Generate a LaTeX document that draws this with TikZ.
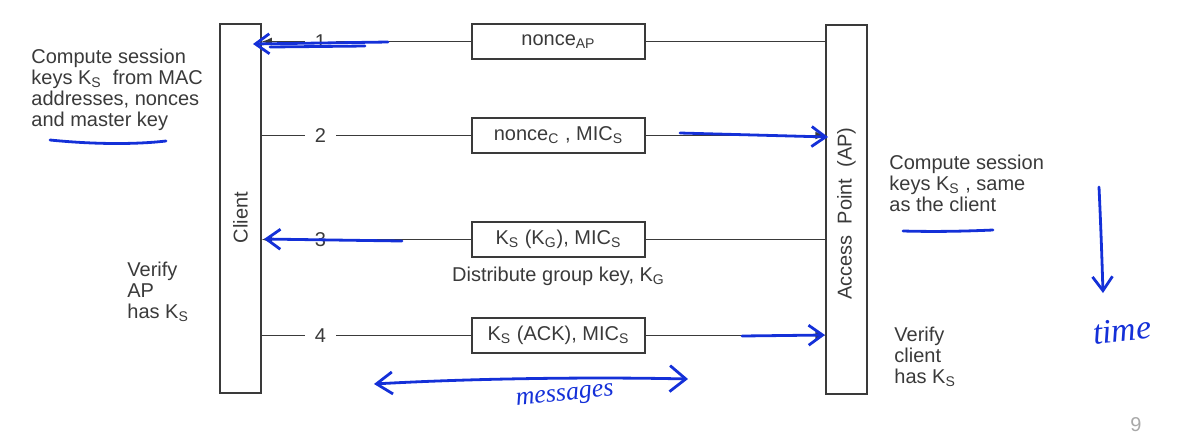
\documentclass[tikz,border=0pt]{standalone}
\usepackage{fontspec}
\setmainfont{Liberation Sans}
\newfontfamily\handfont{Liberation Serif}
\usepackage{xcolor}
\usepackage{tikz}
\usetikzlibrary{arrows.meta,positioning}
\definecolor{inkgray}{HTML}{3A3A3A}
\definecolor{pagegray}{HTML}{A8A8A8}
\definecolor{penblue}{HTML}{1430D8}

\begin{document}
\begin{tikzpicture}[
    x=0.5pt,y=-0.5pt,
    node distance=4pt,
    font=\fontsize{10}{10.5}\selectfont,
    party/.style={rectangle,draw=inkgray,line width=0.75pt,minimum width=20.5pt,minimum height=184.5pt,inner sep=0pt},
    msgbox/.style={rectangle,draw=inkgray,line width=0.75pt,minimum width=86.5pt,minimum height=17.5pt,inner sep=0pt,text=inkgray},
    msgline/.style={draw=inkgray,line width=0.75pt},
    tip/.style={-{Latex[length=5pt,width=4pt]}},
    num/.style={fill=white,inner xsep=5pt,inner ysep=1pt,text=inkgray},
    note/.style={align=left,text=inkgray,inner sep=0pt,anchor=north west},
    pen/.style={penblue,line width=1.4pt,line cap=round,line join=round},
    pentip/.style={-{Straight Barb[length=7pt,width=10pt]}},
    pentips/.style={{Straight Barb[length=8pt,width=11pt]}-{Straight Barb[length=8pt,width=13pt]}}
]
\useasboundingbox (0,0) rectangle (1196,436);

\node[party] (client) at (240.5,208.5) {};
\node[party] (ap) at (846.5,209.5) {};
\node[rotate=90,text=inkgray] at ([yshift=-4.5pt]client.center) {Client};
\node[rotate=90,text=inkgray] at ([yshift=-2pt]ap.center) {Access\hspace{0.55em}Point\hspace{0.55em}(AP)};

\node[msgbox] (m1) at (558.5,41.5) {nonce\textsubscript{AP}};
\node[msgbox] (m2) at (558.5,135.5) {nonce\textsubscript{C} , MIC\textsubscript{S}};
\node[msgbox] (m3) at (558.5,239.5) {K\textsubscript{S} (K\textsubscript{G}), MIC\textsubscript{S}};
\node[msgbox] (m4) at (558.5,335.5) {K\textsubscript{S} (ACK), MIC\textsubscript{S}};
\node[note,anchor=north,below=4.5pt of m3] (dist) {Distribute group key, K\textsubscript{G}};

\draw[msgline] (m1.east) -- (m1.east -| ap.west);
\draw[msgline,tip] (m1.west) -- node[num,pos=0.72] {1} (m1.west -| client.east);
\draw[msgline] (m2.west -| client.east) -- node[num,pos=0.28] {2} (m2.west);
\draw[msgline,tip] (m2.east) -- (m2.east -| ap.west);
\draw[msgline] (m3.east) -- (m3.east -| ap.west);
\draw[msgline,tip] (m3.west) -- node[num,pos=0.72] {3} (m3.west -| client.east);
\draw[msgline] (m4.west -| client.east) -- node[num,pos=0.28] {4} (m4.west);
\draw[msgline,tip] (m4.east) -- (m4.east -| ap.west);

\node[note] (cnote) at (31,49) {Compute session\\keys K\textsubscript{S}\ \ from MAC\\addresses, nonces\\and master key};
\node[note] (cverify) at (127,262) {Verify\\AP\\has K\textsubscript{S}};
\node[note] (apnote) at (889,155) {Compute session\\keys K\textsubscript{S} , same\\as the client};
\node[note] (apverify) at (894,327) {Verify\\client\\has K\textsubscript{S}};
\node[text=pagegray] (page) at (1136,425) {9};

% pen marks over the slide
\draw[pen] (50,140) .. controls (100,145) and (140,144) .. (166,141);
\draw[pen] (903,231) .. controls (940,232) and (970,231) .. (993,230);
\draw[pen,pentip] (388,42) -- (253,44);
\draw[pen] (365,46) -- (270,47);
\draw[pen,pentip] (680,133) -- (828,137);
\draw[pen,pentip] (402,241) -- (264,239);
\draw[pen,pentip] (742,336) -- (825,335);
\draw[pen,pentips] (374,384) .. controls (480,378) and (600,377) .. (688,379);
\node[penblue,rotate=6] (msgword) at (565,397) {\handfont\itshape\fontsize{13}{13}\selectfont messages};
\draw[pen,pentip] (1099,187) .. controls (1101,230) and (1102,260) .. (1103,293);
\node[penblue,rotate=6] (timeword) at (1122,330) {\handfont\itshape\fontsize{17}{17}\selectfont time};
\end{tikzpicture}
\end{document}
